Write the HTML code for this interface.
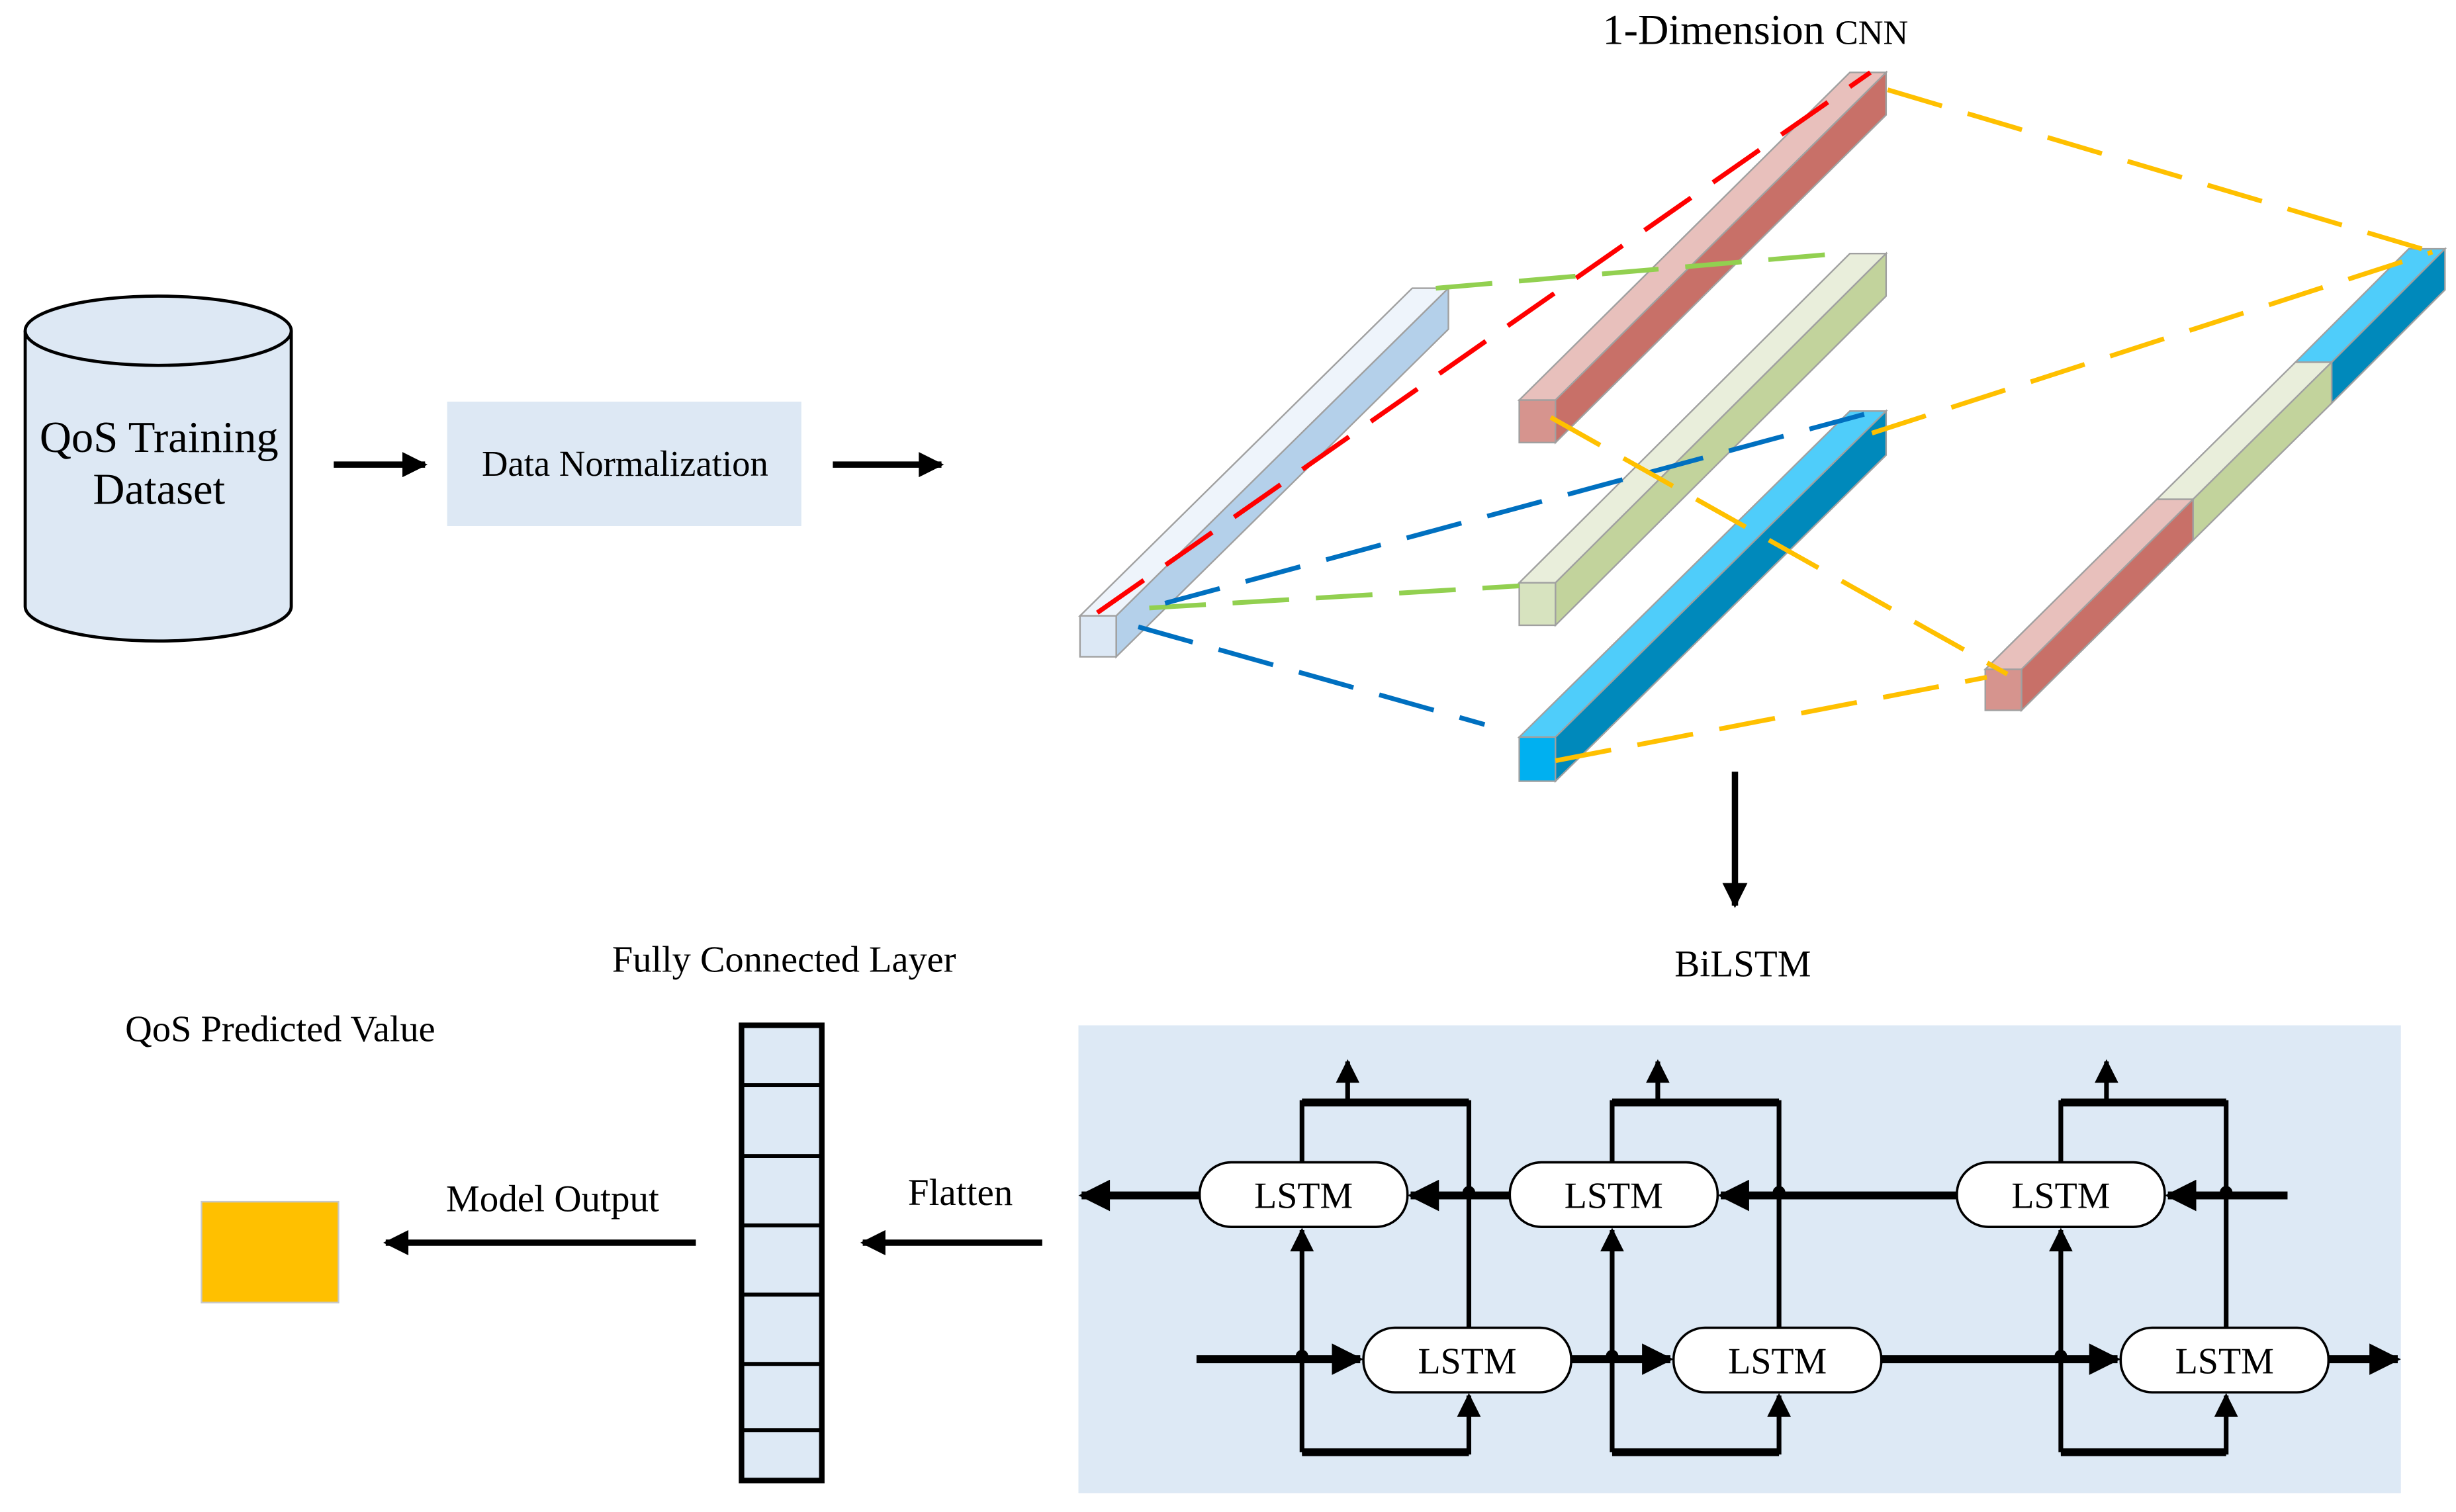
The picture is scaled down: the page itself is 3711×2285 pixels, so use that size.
<!DOCTYPE html>
<html><head><meta charset="utf-8"><style>
html,body{margin:0;padding:0;background:#fff;}
svg{display:block;}
text{font-family:"Liberation Serif",serif;fill:#000;}
</style></head><body>
<svg width="3711" height="2285" viewBox="0 0 1560 960" preserveAspectRatio="none" xmlns="http://www.w3.org/2000/svg">
<defs>
<marker id="ah" viewBox="0 0 10 10" refX="9" refY="5" markerWidth="4.4" markerHeight="4" orient="auto" markerUnits="strokeWidth">
<path d="M0,0 L10,5 L0,10 z" fill="#000"/></marker>
<marker id="ah2" viewBox="0 0 10 10" refX="9" refY="5" markerWidth="7" markerHeight="5" orient="auto" markerUnits="strokeWidth">
<path d="M0,0 L10,5 L0,10 z" fill="#000"/></marker>
</defs>
<!-- Cylinder -->
<path d="M16,210 L16,385 A84.5,22 0 0 0 185,385 L185,210" fill="#dde8f4" stroke="#000" stroke-width="2"/>
<ellipse cx="100.5" cy="210" rx="84.5" ry="22" fill="#dde8f4" stroke="#000" stroke-width="2"/>
<text x="101" y="287" font-size="28" text-anchor="middle">QoS Training</text>
<text x="101" y="320" font-size="28" text-anchor="middle">Dataset</text>
<line x1="212" y1="295" x2="270" y2="295" stroke="#000" stroke-width="4" marker-end="url(#ah)"/>
<rect x="284" y="255" width="225" height="79" fill="#dde8f4"/>
<text x="397" y="302" font-size="23" text-anchor="middle">Data Normalization</text>
<line x1="529" y1="295" x2="598" y2="295" stroke="#000" stroke-width="4" marker-end="url(#ah)"/>
<text x="1115" y="28" font-size="27" text-anchor="middle">1-Dimension <tspan font-size="22">CNN</tspan></text>

<g stroke="#a0a0a0" stroke-width="1">
<polygon points="965,254 988,254 1198,46 1175,46" fill="#e8c0bc"/>
<polygon points="988,254 1198,46 1198,73 988,281" fill="#c87068"/>
<rect x="965" y="254" width="23" height="27" fill="#d6948e"/>
<polygon points="965,370 988,370 1198,161 1175,161" fill="#e9eedb"/>
<polygon points="988,370 1198,161 1198,188 988,397" fill="#c2d39c"/>
<rect x="965" y="370" width="23" height="27" fill="#d7e3bf"/>
<polygon points="686,391 709,391 920,183 897,183" fill="#eef4fb"/>
<polygon points="709,391 920,183 920,209 709,417" fill="#b4d0ea"/>
<rect x="686" y="391" width="23" height="26" fill="#dce8f5"/>
<polygon points="965,468 988,468 1198,261 1175,261" fill="#4fcdfa"/>
<polygon points="988,468 1198,261 1198,289 988,496" fill="#0089bb"/>
<rect x="965" y="468" width="23" height="28" fill="#00b0f0"/>
<polygon points="1458,230 1481,230 1553,158 1530,158" fill="#4fcdfa"/>
<polygon points="1481,230 1553,158 1553,184 1481,256" fill="#0089bb"/>
<polygon points="1370,317 1393,317 1481,230 1458,230" fill="#e9eedb"/>
<polygon points="1393,317 1481,230 1481,256 1393,343" fill="#c2d39c"/>
<polygon points="1261,425 1284,425 1393,317 1370,317" fill="#e8c0bc"/>
<polygon points="1284,425 1393,317 1393,343 1284,451" fill="#c87068"/>
<rect x="1261" y="425" width="23" height="26" fill="#d6948e"/>
</g>

<g fill="none" stroke-width="3" stroke-dasharray="36,17">
<line x1="697" y1="389" x2="1188" y2="46" stroke="#ff0000"/>
<line x1="912" y1="183" x2="1168" y2="161" stroke="#92d050"/>
<line x1="730" y1="386" x2="965" y2="372" stroke="#92d050"/>
<line x1="723" y1="398" x2="943" y2="460" stroke="#0070c0"/>
<line x1="740" y1="383" x2="1188" y2="262" stroke="#0070c0"/>
<line x1="1199" y1="57" x2="1545" y2="160" stroke="#ffc000"/>
<line x1="1189" y1="275" x2="1545" y2="160" stroke="#ffc000"/>
<line x1="985" y1="265" x2="1275" y2="428" stroke="#ffc000"/>
<line x1="988" y1="483" x2="1262" y2="430" stroke="#ffc000"/>
</g>

<line x1="1102" y1="490" x2="1102" y2="575" stroke="#000" stroke-width="4" marker-end="url(#ah)"/>
<text x="1107" y="620" font-size="24" text-anchor="middle">BiLSTM</text>
<text x="498" y="617" font-size="23.7" text-anchor="middle">Fully Connected Layer</text>
<text x="178" y="661" font-size="23.7" text-anchor="middle">QoS Predicted Value</text>

<rect x="685" y="651" width="840" height="297" fill="#dde9f5"/>

<rect x="471" y="651" width="51" height="289" fill="#dde9f5" stroke="#000" stroke-width="3.5"/>
<g stroke="#000" stroke-width="2.5">
<line x1="471" y1="689" x2="522" y2="689"/><line x1="471" y1="734" x2="522" y2="734"/>
<line x1="471" y1="778" x2="522" y2="778"/><line x1="471" y1="822" x2="522" y2="822"/>
<line x1="471" y1="866" x2="522" y2="866"/><line x1="471" y1="908" x2="522" y2="908"/>
</g>
<rect x="128" y="763" width="87" height="64" fill="#ffc000" stroke="#c8c8c8" stroke-width="1"/>
<text x="351" y="769" font-size="24" text-anchor="middle">Model Output</text>
<line x1="442" y1="789" x2="245" y2="789" stroke="#000" stroke-width="4" marker-end="url(#ah)"/>
<text x="610" y="765" font-size="24" text-anchor="middle">Flatten</text>
<line x1="662" y1="789" x2="548" y2="789" stroke="#000" stroke-width="4" marker-end="url(#ah)"/>

<g stroke="#000" fill="none" stroke-width="3">
<polyline points="827,738 827,700 933,700 933,843"/>
<line x1="856" y1="700" x2="856" y2="674" marker-end="url(#ah2)"/>
<polyline points="827,922 933,922 933,886" marker-end="url(#ah2)"/>
<line x1="827" y1="922" x2="827" y2="781" marker-end="url(#ah2)"/>
<polyline points="1024,738 1024,700 1130,700 1130,843"/>
<line x1="1053" y1="700" x2="1053" y2="674" marker-end="url(#ah2)"/>
<polyline points="1024,922 1130,922 1130,886" marker-end="url(#ah2)"/>
<line x1="1024" y1="922" x2="1024" y2="781" marker-end="url(#ah2)"/>
<polyline points="1309,738 1309,700 1414,700 1414,843"/>
<line x1="1338" y1="700" x2="1338" y2="674" marker-end="url(#ah2)"/>
<polyline points="1309,922 1414,922 1414,886" marker-end="url(#ah2)"/>
<line x1="1309" y1="922" x2="1309" y2="781" marker-end="url(#ah2)"/>
</g>
<g stroke="#000" stroke-width="5" fill="none">
<line x1="827" y1="700" x2="933" y2="700"/><line x1="827" y1="922" x2="933" y2="922"/>
<line x1="1024" y1="700" x2="1130" y2="700"/><line x1="1024" y1="922" x2="1130" y2="922"/>
<line x1="1309" y1="700" x2="1414" y2="700"/><line x1="1309" y1="922" x2="1414" y2="922"/>
<line x1="1453" y1="759" x2="1377" y2="759" marker-end="url(#ah)"/>
<line x1="1243" y1="759" x2="1093" y2="759" marker-end="url(#ah)"/>
<line x1="959" y1="759" x2="896" y2="759" marker-end="url(#ah)"/>
<line x1="762" y1="759" x2="687" y2="759" marker-end="url(#ah)"/>
<line x1="760" y1="863" x2="864" y2="863" marker-end="url(#ah)"/>
<line x1="998" y1="863" x2="1061" y2="863" marker-end="url(#ah)"/>
<line x1="1195" y1="863" x2="1345" y2="863" marker-end="url(#ah)"/>
<line x1="1479" y1="863" x2="1523" y2="863" marker-end="url(#ah)"/>
</g>
<g fill="#000">
<circle cx="933" cy="757" r="4"/><circle cx="1130" cy="757" r="4"/><circle cx="1414" cy="757" r="4"/>
<circle cx="827" cy="861" r="4"/><circle cx="1024" cy="861" r="4"/><circle cx="1309" cy="861" r="4"/>
</g>
<g fill="#fff" stroke="#000" stroke-width="1.5">
<rect x="762" y="738" width="132" height="41" rx="20" ry="20"/>
<rect x="959" y="738" width="132" height="41" rx="20" ry="20"/>
<rect x="1243" y="738" width="132" height="41" rx="20" ry="20"/>
<rect x="866" y="843" width="132" height="41" rx="20" ry="20"/>
<rect x="1063" y="843" width="132" height="41" rx="20" ry="20"/>
<rect x="1347" y="843" width="132" height="41" rx="20" ry="20"/>
</g>
<g font-size="23.5" text-anchor="middle">
<text x="828" y="767">LSTM</text><text x="1025" y="767">LSTM</text><text x="1309" y="767">LSTM</text>
<text x="932" y="872">LSTM</text><text x="1129" y="872">LSTM</text><text x="1413" y="872">LSTM</text>
</g>
</svg>
</body></html>
